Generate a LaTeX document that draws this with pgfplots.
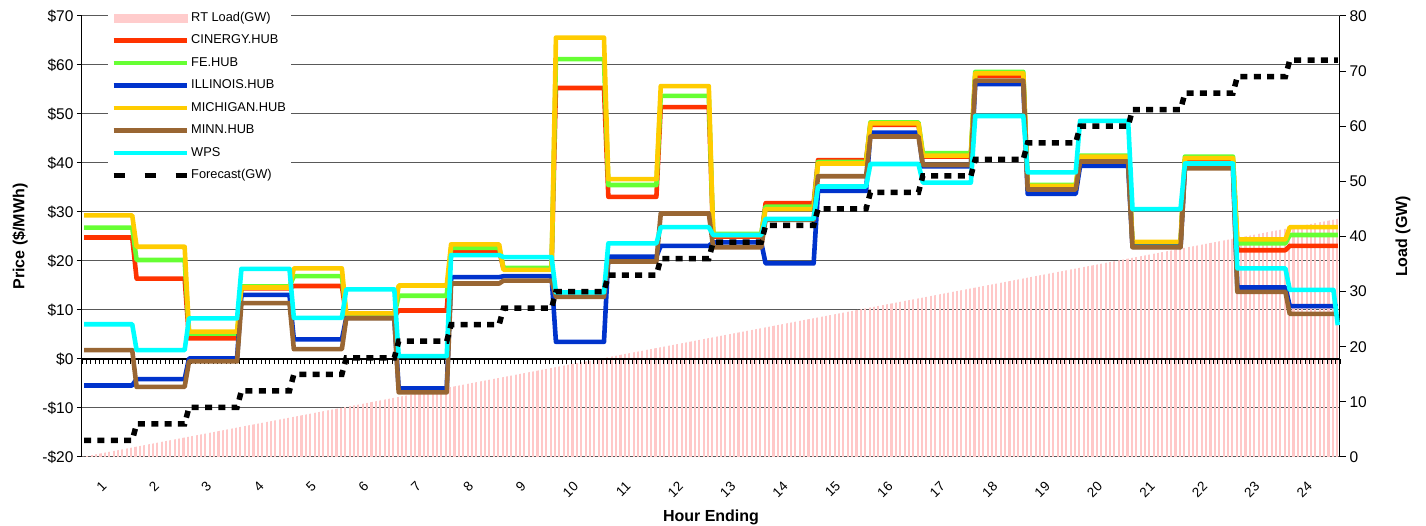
\documentclass[border=0pt]{standalone}
\usepackage{fontspec}
\setmainfont{Liberation Sans}
\usepackage{pgfplots}
\usepackage{pgfplotstable}
\pgfplotsset{compat=1.18}
\usetikzlibrary{patterns.meta}

\definecolor{cin}{RGB}{255,51,0}
\definecolor{fe}{RGB}{102,255,51}
\definecolor{ill}{RGB}{0,51,204}
\definecolor{mich}{RGB}{255,204,0}
\definecolor{minn}{RGB}{153,102,51}
\definecolor{wps}{RGB}{0,255,255}
\definecolor{rtpink}{RGB}{255,200,200}
\definecolor{legpink}{RGB}{255,204,204}

\pgfplotstableread{
x c f i m n w
0.5417 24.8 26.8 -5.4 29.3 1.8 7.1
1.4583 24.8 26.8 -5.4 29.3 1.8 7.1
1.5417 16.4 20.2 -4.1 22.9 -5.7 1.8
2.4583 16.4 20.2 -4.1 22.9 -5.7 1.8
2.5417 4.2 5.2 0.1 5.6 -0.5 8.3
3.4583 4.2 5.2 0.1 5.6 -0.5 8.3
3.5417 14.4 14.8 13.1 14.6 11.4 18.4
4.4583 14.4 14.8 13.1 14.6 11.4 18.4
4.5417 14.9 16.9 4.0 18.5 2.0 8.4
5.4583 14.9 16.9 4.0 18.5 2.0 8.4
5.5417 8.6 9.0 8.4 9.3 8.3 14.2
6.4583 8.6 9.0 8.4 9.3 8.3 14.2
6.5417 9.9 12.9 -6.0 15.0 -6.8 0.6
7.4583 9.9 12.9 -6.0 15.0 -6.8 0.6
7.5417 22.1 22.7 16.7 23.4 15.4 21.2
8.4583 22.1 22.7 16.7 23.4 15.4 21.2
8.5417 18.4 18.6 16.9 18.2 16.0 20.8
9.4583 18.4 18.6 16.9 18.2 16.0 20.8
9.5417 55.3 61.2 3.5 65.6 12.7 13.6
10.4583 55.3 61.2 3.5 65.6 12.7 13.6
10.5417 33.1 35.5 20.9 36.7 19.9 23.6
11.4583 33.1 35.5 20.9 36.7 19.9 23.6
11.5417 51.4 53.7 23.1 55.7 29.7 26.9
12.4583 51.4 53.7 23.1 55.7 29.7 26.9
12.5417 25.0 25.5 23.8 25.3 22.8 25.3
13.4583 25.0 25.5 23.8 25.3 22.8 25.3
13.5417 31.8 31.1 19.5 30.6 28.4 28.6
14.4583 31.8 31.1 19.5 30.6 28.4 28.6
14.5417 40.6 40.2 34.3 39.9 37.3 35.2
15.4583 40.6 40.2 34.3 39.9 37.3 35.2
15.5417 47.8 48.3 46.2 48.1 45.4 39.8
16.4583 47.8 48.3 46.2 48.1 45.4 39.8
16.5417 41.3 42.0 39.3 41.5 39.6 36.0
17.4583 41.3 42.0 39.3 41.5 39.6 36.0
17.5417 57.8 58.6 56.1 58.3 56.8 49.6
18.4583 57.8 58.6 56.1 58.3 56.8 49.6
18.5417 35.0 35.5 33.7 35.3 34.6 38.1
19.4583 35.0 35.5 33.7 35.3 34.6 38.1
19.5417 41.0 41.5 39.4 41.3 40.3 48.6
20.4583 41.0 41.5 39.4 41.3 40.3 48.6
20.5417 23.3 23.7 22.9 23.9 22.8 30.6
21.4583 23.3 23.7 22.9 23.9 22.8 30.6
21.5417 40.6 41.3 39.2 41.0 38.9 39.9
22.4583 40.6 41.3 39.2 41.0 38.9 39.9
22.5417 22.2 23.6 14.6 24.4 13.7 18.5
23.4583 22.2 23.6 14.6 24.4 13.7 18.5
23.5417 23.1 25.3 10.8 26.9 9.2 14.1
24.375 23.1 25.3 10.8 26.9 9.2 14.1
24.4583 23.1 25.3 10.8 26.9 9.2 6.9
}\hubs

\pgfplotstableread{
x y
0.5417 3
1.4583 3
1.5417 6
2.4583 6
2.5417 9
3.4583 9
3.5417 12
4.4583 12
4.5417 15
5.4583 15
5.5417 18
6.4583 18
6.5417 21
7.4583 21
7.5417 24
8.4583 24
8.5417 27
9.4583 27
9.5417 30
10.4583 30
10.5417 33
11.4583 33
11.5417 36
12.4583 36
12.5417 39
13.4583 39
13.5417 42
14.4583 42
14.5417 45
15.4583 45
15.5417 48
16.4583 48
16.5417 51
17.4583 51
17.5417 54
18.4583 54
18.5417 57
19.4583 57
19.5417 60
20.4583 60
20.5417 63
21.4583 63
21.5417 66
22.4583 66
22.5417 69
23.4583 69
23.5417 72
24.4583 72
}\fcst

\pgfplotsset{base/.style={scale only axis, width=1258pt, height=441pt,
  at={(0pt,0pt)}, anchor=south west, xmin=0.5, xmax=24.5}}

\begin{document}
\begin{tikzpicture}
\useasboundingbox (-82pt,-69pt) rectangle (1344pt,457pt);

% grid
\begin{axis}[base, ymin=-20, ymax=70, ytick={-20,-10,...,70}, yticklabels={},
  xtick=\empty, ymajorgrids, major grid style={black!65, line width=1pt},
  axis line style={draw=none}, major tick length=0pt]
\end{axis}

% load (right axis) with RT load bars
\begin{axis}[base, ymin=0, ymax=80, axis y line*=right, axis x line=none,
  ytick={0,10,...,80}, yticklabels={0,10,20,30,40,50,60,70,80},
  tick align=outside, major tick length=6pt,
  y axis line style={black, line width=1pt},
  every tick/.style={black, line width=1pt},
  yticklabel style={font=\fontsize{15.5}{18}\selectfont},
  every axis y label/.style={at={(axis description cs:1.05,0.5)}, rotate=90, anchor=center,
    font=\bfseries\fontsize{16}{19}\selectfont},
  ylabel={Load (GW)}]
\addplot[draw=none, pattern={Lines[angle=90,distance=4.37pt,line width=2.1pt]}, pattern color=rtpink]
  coordinates {(0.5,0) (24.4583,43.2)} \closedcycle;
\end{axis}

% zero line with dense ticks
\begin{axis}[base, ymin=-20, ymax=70, axis x line*=middle, axis y line=none,
  xtick={0.5,1.5,...,24.5}, minor x tick num=11, xticklabels={},
  tick align=outside, major tick length=5pt, minor tick length=5pt,
  x axis line style={black, line width=1.2pt},
  every tick/.style={black, line width=0.7pt}]
\end{axis}

% price axis with hubs
\begin{axis}[base, ymin=-20, ymax=70, axis y line*=left, axis x line*=bottom,
  x axis line style={draw=none},
  xtick={1,...,24},
  xticklabels={1,2,3,4,5,6,7,8,9,10,11,12,13,14,15,16,17,18,19,20,21,22,23,24},
  xtick style={draw=none},
  xticklabel style={font=\fontsize{13.5}{15}\selectfont, xshift=-4pt, yshift=-22pt, rotate=45, anchor=east, inner sep=0pt},
  ytick={-20,-10,...,70},
  yticklabels={-\$20,-\$10,\$0,\$10,\$20,\$30,\$40,\$50,\$60,\$70},
  tick align=outside, major tick length=5pt,
  y axis line style={black, line width=1pt},
  ytick style={black, line width=1pt},
  yticklabel style={font=\fontsize{15.5}{18}\selectfont},
  every axis y label/.style={at={(axis description cs:-0.0493,0.5)}, rotate=90, anchor=center,
    font=\bfseries\fontsize{16}{19}\selectfont},
  ylabel={Price (\$/MWh)},
  every axis x label/.style={at={(axis description cs:0.5,-0.136)}, anchor=center,
    font=\bfseries\fontsize{16}{19}\selectfont},
  xlabel={Hour Ending},
  legend image code/.code={\draw[#1] (0pt,0pt) -- (73pt,0pt);},
  legend cell align=left,
  legend style={draw=none, fill=white, at={(axis description cs:0.0207,1.0205)}, anchor=north west,
    font=\fontsize{12.8}{15}\selectfont, row sep=7pt, inner sep=3pt,
    nodes={text height=9pt, text depth=2.5pt, inner sep=2pt}}]
\addlegendimage{legend image code/.code={\fill[legpink] (0pt,-4pt) rectangle (73pt,4pt);}}
\addlegendentry{RT Load(GW)}
\addplot[cin, line width=4.6pt, line join=round] table[x=x,y=c]{\hubs};
\addlegendentry{CINERGY.HUB}
\addplot[fe, line width=4.6pt, line join=round] table[x=x,y=f]{\hubs};
\addlegendentry{FE.HUB}
\addplot[ill, line width=4.6pt, line join=round] table[x=x,y=i]{\hubs};
\addlegendentry{ILLINOIS.HUB}
\addplot[mich, line width=4.6pt, line join=round] table[x=x,y=m]{\hubs};
\addlegendentry{MICHIGAN.HUB}
\addplot[minn, line width=4.6pt, line join=round] table[x=x,y=n]{\hubs};
\addlegendentry{MINN.HUB}
\addplot[wps, line width=4.6pt, line join=round] table[x=x,y=w]{\hubs};
\addlegendentry{WPS}
\addlegendimage{legend image code/.code={\draw[black, line width=5pt, dash pattern=on 11pt off 20pt] (0pt,0pt) -- (73pt,0pt);}}
\addlegendentry{Forecast(GW)}
\end{axis}

% forecast on load scale
\begin{axis}[base, ymin=0, ymax=80, hide axis]
\addplot[black, line width=5.5pt, dash pattern=on 7pt off 6.3pt] table[x=x,y=y]{\fcst};
\end{axis}
\end{tikzpicture}
\end{document}
